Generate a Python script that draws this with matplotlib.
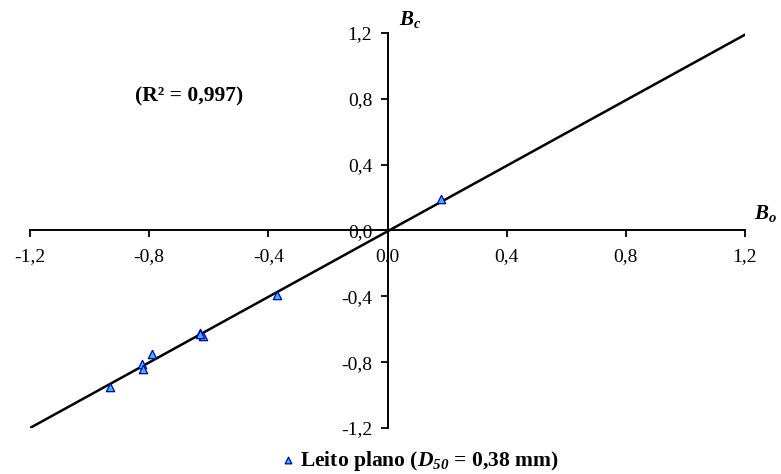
import matplotlib

matplotlib.use('Agg')
import matplotlib.pyplot as plt
import matplotlib.ticker as ticker
import numpy as np

bo = [0.18, -0.37, -0.63, -0.62, -0.63, -0.79, -0.825, -0.82, -0.93]
bc = [0.19, -0.39, -0.62, -0.64, -0.63, -0.75, -0.81, -0.84, -0.95]
line_x = [-1.2, 1.2]
line_y = [-1.2, 1.19]
ticks = [-1.2, -0.8, -0.4, 0.0, 0.4, 0.8, 1.2]
xtick_labels = ['-1,2', '-0,8', '-0,4', '0.0', '0,4', '0,8', '1,2']
ytick_labels = ['-1,2', '-0,8', '-0,4', '0,0', '0,4', '0,8', '1,2']

plt.rcParams.update({
    'font.family': 'Liberation Serif',
    'mathtext.fontset': 'custom',
    'mathtext.rm': 'Liberation Serif',
    'mathtext.it': 'Liberation Serif:italic',
    'mathtext.bf': 'Liberation Serif:bold',
    'mathtext.bfit': 'Liberation Serif:bold:italic',
})

fig = plt.figure(figsize=(7.81, 4.74), dpi=100)
ax = fig.add_axes([30 / 781, 1 - 428 / 474, 715 / 781, 395 / 474])

ax.plot(line_x, line_y, color='black', linewidth=1.8, zorder=2)
ax.scatter(bo, bc, marker='^', s=36, facecolor='#33bbff', edgecolor='#000099',
           linewidths=0.9, zorder=3, label=r'Leito plano ($\mathbfit{D}_{\mathbfit{50}}$ = 0,38 mm)')

ax.set_xlim(-1.2, 1.2)
ax.set_ylim(-1.2, 1.2)

for side in ['top', 'right']:
    ax.spines[side].set_visible(False)
ax.spines['left'].set_position(('data', 0))
ax.spines['bottom'].set_position(('data', 0))
ax.spines['left'].set_linewidth(1.4)
ax.spines['bottom'].set_linewidth(1.4)

ax.xaxis.set_major_locator(ticker.FixedLocator(ticks))
ax.yaxis.set_major_locator(ticker.FixedLocator(ticks))
ax.set_xticklabels(xtick_labels)
ax.set_yticklabels(ytick_labels)
ax.tick_params(axis='both', direction='out', length=5, width=1.3, labelsize=14)
ax.tick_params(axis='x', pad=8)
ax.tick_params(axis='y', pad=6)

# axis names
fig.text(410 / 781, 1 - 19 / 474, r'$\mathbfit{B}_{\mathbfit{c}}$', fontsize=15,
         ha='center', va='center')
fig.text(766 / 781, 1 - 213 / 474, r'$\mathbfit{B}_{\mathbfit{o}}$', fontsize=15,
         ha='center', va='center')

fig.text(189 / 781, 1 - 96 / 474, '(R² = 0,997)', fontsize=15.5, fontweight='bold',
         ha='center', va='center')

leg = fig.legend(loc='center left', bbox_to_anchor=(266 / 781, 1 - 461 / 474), frameon=False,
                 borderpad=0, handletextpad=0.1, handlelength=1.0,
                 prop={'weight': 'bold', 'size': 15.5}, markerscale=0.8)

fig.savefig('out.png', dpi=100)
